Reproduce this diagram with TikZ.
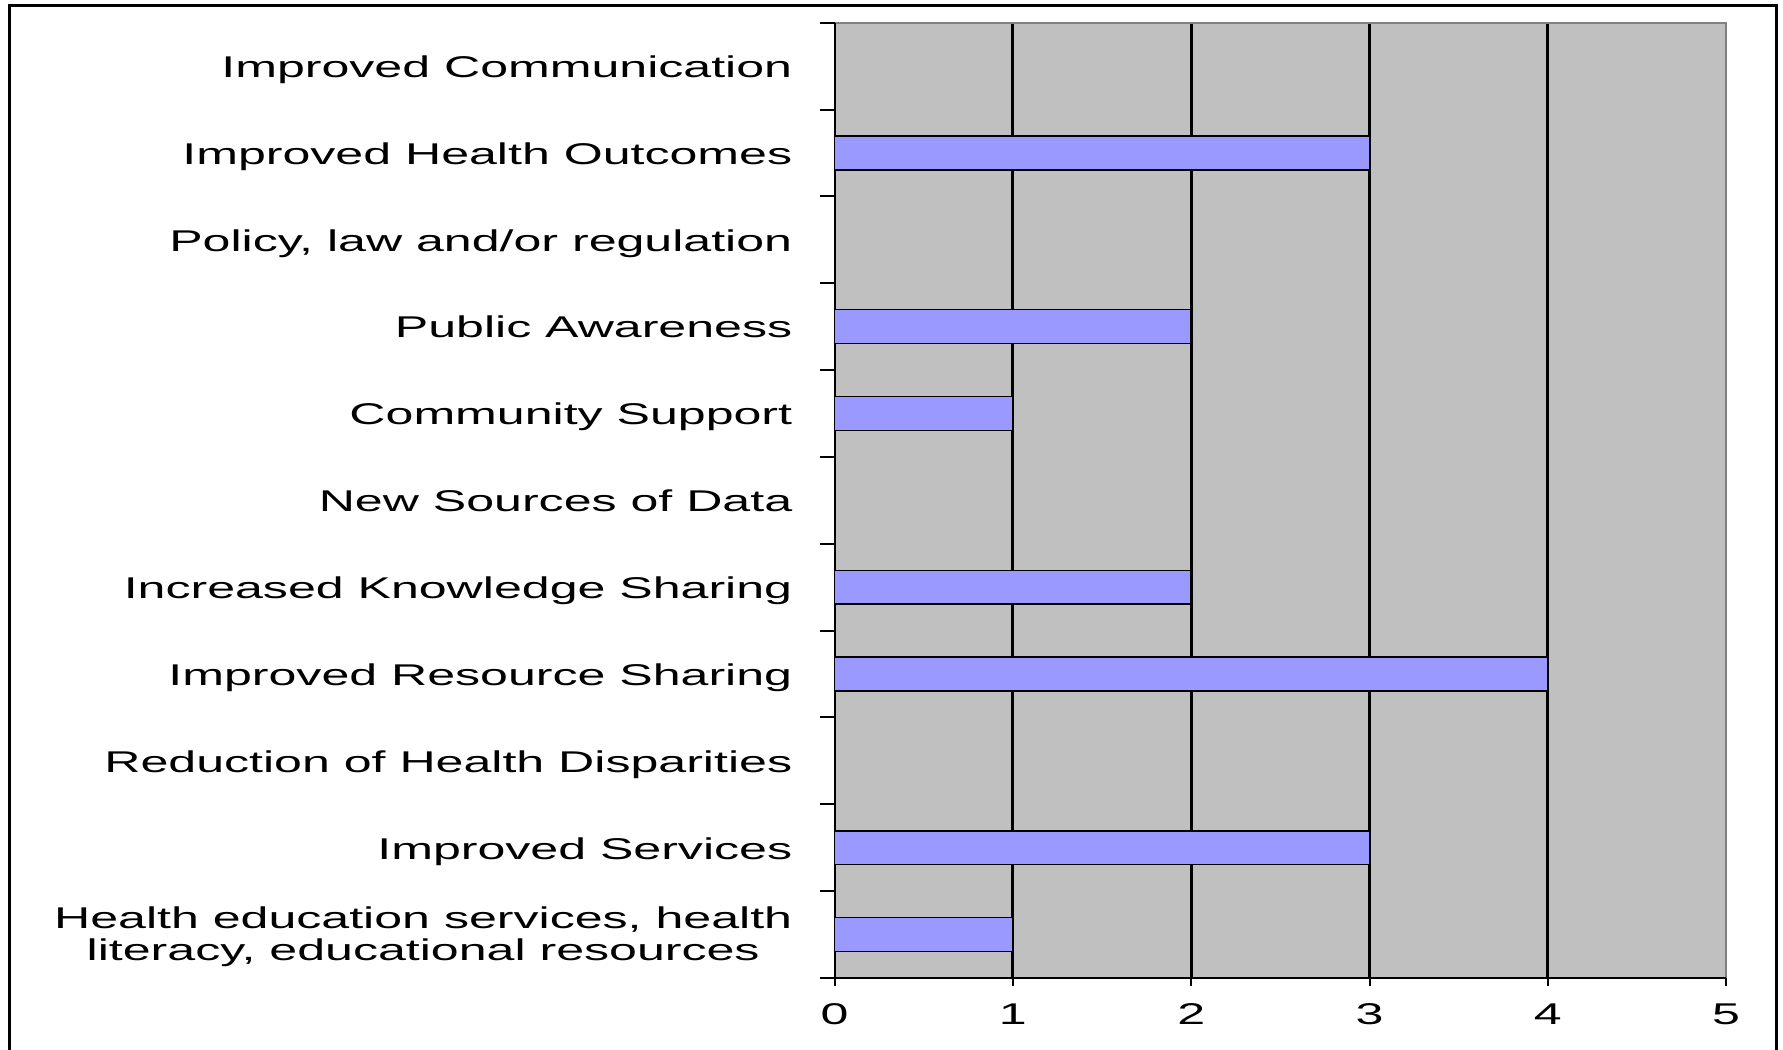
\documentclass[tikz,border=0pt]{standalone}
\usepackage{fontspec}
\setmainfont{Liberation Sans}
\usetikzlibrary{positioning}

\definecolor{barblue}{HTML}{9999FF}
\definecolor{plotgray}{HTML}{C0C0C0}
\definecolor{edgegray}{HTML}{808080}

\tikzset{
    catlabel/.style={anchor=base east, xscale=1.67, inner sep=0pt, align=center,
        font=\fontsize{30}{32}\selectfont},
    ticklabel/.style={xscale=1.67, inner sep=0pt, font=\fontsize{30}{32}\selectfont},
    bar/.style={draw=black, line width=1.5pt, fill=barblue},
    gridline/.style={draw=black, line width=3pt},
}

\begin{document}
\begin{tikzpicture}[x=178.3pt, y=86.85pt]
    \useasboundingbox (-4.681,-0.8175) rectangle (5.319,11.261);
    % frame
    \draw[line width=3pt] (-4.630,-1.5) -- (-4.630,11.203) -- (5.280,11.203) -- (5.280,-1.5);
    % plot area
    \fill[plotgray] (0,0) rectangle (5,11);
    \foreach \g in {1,...,4}
        \draw[gridline] (\g,0) -- (\g,11);
    \draw[edgegray, line width=2pt] (0,11) -- (5,11) -- (5,0);
    \draw[line width=2pt] (0,11) -- (0,0) -- (5,0);
    \foreach \t in {0,...,11}
        \draw[line width=2pt] (-0.083,\t) -- (0,\t);
    \foreach \g in {0,...,5} {
        \draw[line width=2pt] (\g,0) -- (\g,-0.092);
        \node[ticklabel] (tick\g) at (\g,-0.415) {\g};
    }
    % categories
    \foreach \val/\lab [count=\i] in {
        0/Improved Communication,
        3/Improved Health Outcomes,
        0/{Policy, law and/or regulation},
        2/Public Awareness,
        1/Community Support,
        0/New Sources of Data,
        2/Increased Knowledge Sharing,
        4/Improved Resource Sharing,
        0/Reduction of Health Disparities,
        3/Improved Services} {
        \node[catlabel] (cat\i) at (-0.236,11.37-\i) {\lab};
        \ifnum\val>0
            \draw[bar] (0,11.305-\i) rectangle (\val,11.695-\i);
        \fi
    }
    \node[catlabel, anchor=east] (cat11) at (-0.236,0.475)
        {Health education services, health\\literacy, educational resources};
    \draw[bar] (0,0.305) rectangle (1,0.695);
\end{tikzpicture}
\end{document}
